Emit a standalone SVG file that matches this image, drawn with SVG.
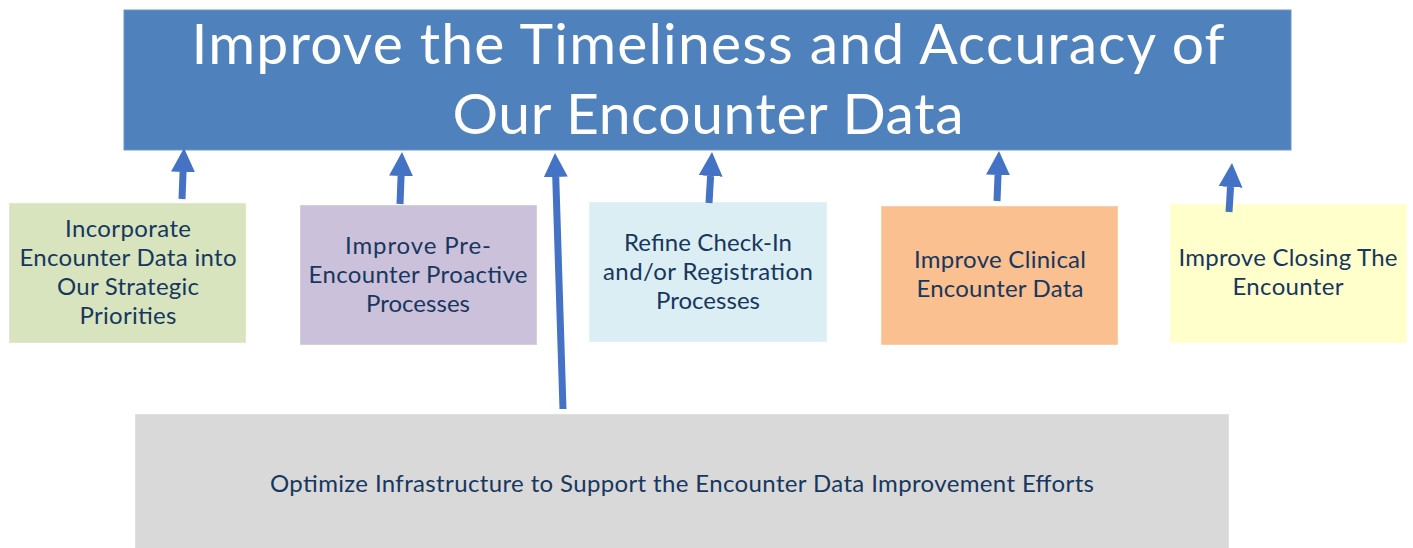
<svg xmlns="http://www.w3.org/2000/svg" width="1413" height="548" viewBox="0 0 1413 548">
  <style>
    .goal { fill: #4F81BD; stroke: #6F95C8; stroke-width: 1; }
    .title { font-family: Lato, "Open Sans", "Liberation Sans", sans-serif; font-size: 57px; fill: #FFFFFF; text-anchor: middle; }
    .box { stroke: #FFFFFF; stroke-opacity: 0.4; stroke-width: 1; }
    .label { font-family: Lato, "Open Sans", "Liberation Sans", sans-serif; font-size: 24px; fill: #17375E; text-anchor: middle; }
    .link { stroke: #4472C4; stroke-width: 7; fill: none; marker-end: url(#head); }
  </style>
  <defs>
    <marker id="head" markerUnits="userSpaceOnUse" markerWidth="26" markerHeight="26" viewBox="0 -13 26 26" refX="0" refY="0" orient="auto">
      <path d="M0,-12 L24,0 L0,12 Z" fill="#4472C4"/>
    </marker>
  </defs>

  <rect width="1413" height="548" fill="#FFFFFF"/>

  <!-- overall goal -->
  <g id="goal">
    <rect class="goal" x="124" y="10" width="1167" height="140"/>
    <text class="title" x="708" y="64" textLength="1033">Improve the Timeliness and Accuracy of</text>
    <text class="title" x="708" y="134" textLength="511">Our Encounter Data</text>
  </g>

  <!-- supporting initiatives -->
  <g id="strategic">
    <rect class="box" x="9" y="203" width="237" height="140" fill="#D7E4BD"/>
    <text class="label" x="128" y="237" textLength="126">Incorporate</text>
    <text class="label" x="128" y="266" textLength="217">Encounter Data into</text>
    <text class="label" x="128" y="295" textLength="142">Our Strategic</text>
    <text class="label" x="128" y="324" textLength="97">Priorities</text>
  </g>

  <g id="pre-encounter">
    <rect class="box" x="300" y="205" width="237" height="140" fill="#CCC1DA"/>
    <text class="label" x="418" y="254" textLength="146">Improve Pre-</text>
    <text class="label" x="418" y="283" textLength="219">Encounter Proactive</text>
    <text class="label" x="418" y="312" textLength="104">Processes</text>
  </g>

  <g id="check-in">
    <rect class="box" x="589" y="202" width="238" height="140" fill="#DBEEF4"/>
    <text class="label" x="708" y="251" textLength="168">Refine Check-In</text>
    <text class="label" x="708" y="280" textLength="210">and/or Registration</text>
    <text class="label" x="708" y="309" textLength="104">Processes</text>
  </g>

  <g id="clinical">
    <rect class="box" x="881" y="206" width="237" height="139" fill="#FAC090"/>
    <text class="label" x="1000" y="268" textLength="172">Improve Clinical</text>
    <text class="label" x="1000" y="297" textLength="167">Encounter Data</text>
  </g>

  <g id="closing">
    <rect class="box" x="1170" y="204" width="237" height="139" fill="#FFFFCC"/>
    <text class="label" x="1288" y="266" textLength="219">Improve Closing The</text>
    <text class="label" x="1288" y="295" textLength="111">Encounter</text>
  </g>

  <g id="infrastructure">
    <rect class="box" x="135" y="414" width="1094" height="140" fill="#D9D9D9"/>
    <text class="label" x="682" y="492" textLength="824">Optimize Infrastructure to Support the Encounter Data Improvement Efforts</text>
  </g>

  <!-- arrows into the goal -->
  <g id="connectors">
    <line class="link" x1="182" y1="199" x2="183.06" y2="171.98"/>
    <line class="link" x1="400" y1="204" x2="401.08" y2="175.98"/>
    <line class="link" x1="563" y1="409" x2="555.75" y2="176.99"/>
    <line class="link" x1="709" y1="203" x2="710.59" y2="175.96"/>
    <line class="link" x1="997" y1="201" x2="998.04" y2="174.98"/>
    <line class="link" x1="1229" y1="212" x2="1230.53" y2="186.95"/>
  </g>
</svg>
